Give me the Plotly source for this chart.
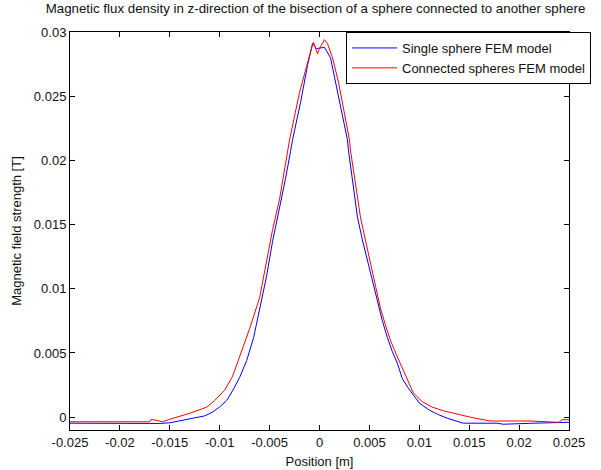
import plotly.graph_objects as go

# Single sphere FEM model
single_x = [-0.025, -0.022, -0.019, -0.016, -0.015, -0.0127, -0.0115, -0.0107, -0.0100,
            -0.0093, -0.0086, -0.0080, -0.0073, -0.0066, -0.0060, -0.0053, -0.0047,
            -0.0040, -0.0034, -0.0029, -0.0027, -0.0019, -0.0012, -0.0007, -0.0003,
            0.0000, 0.0005, 0.0011, 0.0016, 0.0023, 0.0028, 0.0029, 0.0033, 0.0038,
            0.0043, 0.0048, 0.0053, 0.0058, 0.0063, 0.0068, 0.0073, 0.0078, 0.0083,
            0.0089, 0.0094, 0.0100, 0.0110, 0.0119, 0.0128, 0.0136, 0.0144, 0.0178,
            0.0184, 0.0214, 0.0250]
single_y = [-0.00047, -0.00047, -0.00050, -0.00049, -0.00044, -0.00010, 0.00010, 0.00040,
            0.00080, 0.00130, 0.00220, 0.00310, 0.00440, 0.00620, 0.00830, 0.01100,
            0.01370, 0.01630, 0.01860, 0.02070, 0.02160, 0.02450, 0.02740, 0.02910,
            0.02870, 0.02875, 0.02880, 0.02800, 0.02610, 0.02330, 0.02160, 0.02080,
            0.01830, 0.01560, 0.01380, 0.01220, 0.01050, 0.00890, 0.00750, 0.00620,
            0.00510, 0.00420, 0.00300, 0.00226, 0.00170, 0.00110, 0.00055, 0.00020,
            -0.00008, -0.00030, -0.00047, -0.00047, -0.00055, -0.00047, -0.00040]

# Connected spheres FEM model
conn_x = [-0.025, -0.017, -0.0169, -0.0166, -0.0157, -0.0150, -0.0130, -0.0113, -0.0105,
          -0.0095, -0.0087, -0.0080, -0.0070, -0.0060, -0.0053, -0.0047, -0.0040,
          -0.0032, -0.0030, -0.0020, -0.0012, -0.0007, -0.0006, -0.0002, 0.0000,
          0.0005, 0.0008, 0.0013, 0.0019, 0.0026, 0.0030, 0.0031, 0.0036, 0.0041,
          0.0046, 0.0051, 0.0056, 0.0061, 0.0066, 0.0071, 0.0078, 0.0084, 0.0094,
          0.0103, 0.0113, 0.0124, 0.0134, 0.0151, 0.0171, 0.0211, 0.0240, 0.0243,
          0.0250]
conn_y = [-0.00036, -0.00036, -0.00020, -0.00020, -0.00036, -0.00016, 0.00030, 0.00078,
          0.00130, 0.00210, 0.00320, 0.00470, 0.00690, 0.00930, 0.01200, 0.01460,
          0.01700, 0.02050, 0.02160, 0.02530, 0.02770, 0.02900, 0.02920, 0.02830,
          0.02870, 0.02940, 0.02910, 0.02800, 0.02610, 0.02330, 0.02160, 0.02080,
          0.01800, 0.01560, 0.01380, 0.01210, 0.01020, 0.00850, 0.00720, 0.00600,
          0.00470, 0.00370, 0.00190, 0.00120, 0.00078, 0.00050, 0.00030, 0.00000,
          -0.00030, -0.00030, -0.00040, -0.00020, -0.00020]

x_ticks = [-0.025, -0.02, -0.015, -0.01, -0.005, 0, 0.005, 0.01, 0.015, 0.02, 0.025]
x_tick_labels = ["-0.025", "-0.02", "-0.015", "-0.01", "-0.005", "0", "0.005", "0.01",
                 "0.015", "0.02", "0.025"]
y_ticks = [0, 0.005, 0.01, 0.015, 0.02, 0.025, 0.03]
y_tick_labels = ["0", "0.005", "0.01", "0.015", "0.02", "0.025", "0.03"]

FONT = "Liberation Sans, Arial, sans-serif"
TXT = "#111"

fig = go.Figure()
fig.add_trace(go.Scatter(x=single_x, y=single_y, mode="lines",
                         line=dict(color="#0000FF", width=1),
                         name="Single sphere FEM model"))
fig.add_trace(go.Scatter(x=conn_x, y=conn_y, mode="lines",
                         line=dict(color="#FF0000", width=1),
                         name="Connected spheres FEM model"))

axis_common = dict(showline=True, linecolor="black", linewidth=1, mirror="ticks",
                   ticks="inside", ticklen=5, tickcolor="black", showgrid=False,
                   zeroline=False, automargin=False,
                   tickfont=dict(family=FONT, size=13, color=TXT))

fig.update_layout(
    width=601, height=470,
    margin=dict(l=70, r=32, t=32, b=40, autoexpand=False),
    paper_bgcolor="white", plot_bgcolor="white",
    font=dict(family=FONT, size=13, color=TXT),
    title=dict(text="Magnetic flux density in z-direction of the bisection of a sphere connected to another sphere",
               x=315.5 / 601, xanchor="center", xref="container",
               y=1 - 4 / 470, yanchor="top", yref="container",
               font=dict(family=FONT, size=13.3, color=TXT)),
    xaxis=dict(range=[-0.025, 0.025], tickvals=x_ticks, ticktext=x_tick_labels,
               title=dict(text="Position [m]", standoff=8,
                          font=dict(family=FONT, size=13, color=TXT)),
               **axis_common),
    yaxis=dict(range=[-0.001, 0.03], tickvals=y_ticks, ticktext=y_tick_labels,
               title=dict(text="Magnetic field strength [T]", standoff=9,
                          font=dict(family=FONT, size=13, color=TXT)),
               **axis_common),
    legend=dict(x=(346 - 70) / 499, y=1, xanchor="left", yanchor="top",
                bordercolor="black", borderwidth=1, bgcolor="white",
                font=dict(family=FONT, size=13, color=TXT),
                itemwidth=45, tracegroupgap=0),
    showlegend=True,
)

fig.write_html("out.html", config={"displayModeBar": False})
